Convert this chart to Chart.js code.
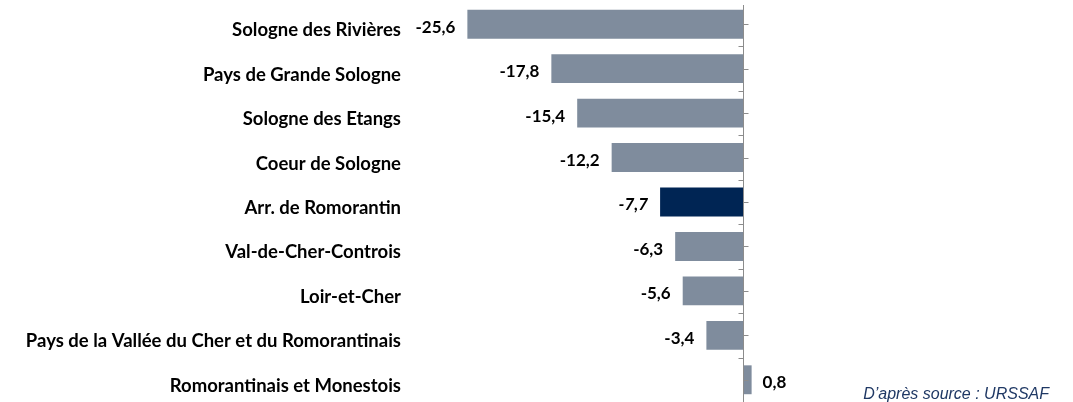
<!DOCTYPE html>
<html>
<head>
<meta charset="utf-8">
<script src="https://cdn.jsdelivr.net/npm/chart.js@4"></script>
<style>
  html, body { margin: 0; padding: 0; background: #fff; }
  #wrap { position: relative; width: 1073px; height: 402px; }
</style>
</head>
<body>
<div id="wrap"><canvas id="bars"></canvas></div>
<script>
const territories = [
    'Sologne des Rivières',
    'Pays de Grande Sologne',
    'Sologne des Etangs',
    'Coeur de Sologne',
    'Arr. de Romorantin',
    'Val-de-Cher-Controis',
    'Loir-et-Cher',
    'Pays de la Vallée du Cher et du Romorantinais',
    'Romorantinais et Monestois'
];
const evolution = [-25.6, -17.8, -15.4, -12.2, -7.7, -6.3, -5.6, -3.4, 0.8];
const highlighted = 'Arr. de Romorantin';
const sourceNote = 'D\u2019après source : URSSAF';

const greyBar = '#7f8c9d';
const navyBar = '#002554';

// axis line at zero with small ticks (centre ticks right, boundary ticks left)
const zeroAxis = {
    id: 'zeroAxis',
    afterDatasetsDraw(chart) {
        const ctx = chart.ctx;
        const xs = chart.scales.x, ys = chart.scales.y;
        const x0 = Math.round(xs.getPixelForValue(0)) + 0.5;
        ctx.save();
        ctx.strokeStyle = '#8c8c8c';
        ctx.lineWidth = 1;
        ctx.beginPath();
        ctx.moveTo(x0, chart.chartArea.top + 3);
        ctx.lineTo(x0, chart.chartArea.bottom);
        for (let i = 0; i < territories.length; i++) {
            const yc = Math.round(ys.getPixelForValue(i)) + 0.5;
            ctx.moveTo(x0, yc);
            ctx.lineTo(x0 + 5, yc);
            if (i > 0) {
                const yb = Math.round((ys.getPixelForValue(i) + ys.getPixelForValue(i - 1)) / 2) + 0.5;
                ctx.moveTo(x0 - 5, yb);
                ctx.lineTo(x0, yb);
            }
        }
        ctx.stroke();
        ctx.restore();
    }
};

// value labels next to the bars
const valueLabels = {
    id: 'valueLabels',
    afterDatasetsDraw(chart) {
        const ctx = chart.ctx;
        const meta = chart.getDatasetMeta(0);
        ctx.save();
        ctx.fillStyle = '#000';
        ctx.textBaseline = 'middle';
        meta.data.forEach((bar, i) => {
            const v = evolution[i];
            const txt = v.toFixed(1).replace('.', ',');
            const italic = territories[i] === highlighted ? 'italic ' : '';
            ctx.font = italic + 'bold 17px Lato';
            if (v < 0) {
                ctx.textAlign = 'right';
                ctx.fillText(txt, bar.x - 12, bar.y + 3);
            } else {
                ctx.textAlign = 'left';
                ctx.fillText(txt, bar.x + 11, bar.y + 3);
            }
        });
        ctx.restore();
    }
};

const sourceText = {
    id: 'sourceText',
    afterDraw(chart) {
        const ctx = chart.ctx;
        ctx.save();
        ctx.font = 'italic 16px "Liberation Sans"';
        ctx.fillStyle = '#1f3864';
        ctx.textAlign = 'right';
        ctx.textBaseline = 'alphabetic';
        ctx.fillText(sourceNote, 1049, 399);
        ctx.restore();
    }
};

new Chart(document.getElementById('bars'), {
    type: 'bar',
    data: {
        labels: territories,
        datasets: [{
            data: evolution,
            backgroundColor: territories.map(t => t === highlighted ? navyBar : greyBar),
            borderWidth: 0,
            barPercentage: 0.65,
            categoryPercentage: 1
        }]
    },
    options: {
        indexAxis: 'y',
        responsive: true,
        maintainAspectRatio: false,
        animation: false,
        layout: { padding: { top: 2, bottom: 0, left: 0, right: 7 } },
        plugins: {
            legend: { display: false },
            tooltip: { enabled: false }
        },
        scales: {
            x: {
                min: -30,
                max: 30,
                display: false
            },
            y: {
                grid: { display: false, drawTicks: false },
                border: { display: false },
                ticks: {
                    color: '#000',
                    padding: 19,
                    labelOffset: 6,
                    font: { family: 'Lato', weight: 'bold', size: 18.5 }
                },
                afterFit(scale) {
                    scale.width = 420;
                    scale.paddingTop = 0;
                    scale.paddingBottom = 0;
                }
            }
        }
    },
    plugins: [zeroAxis, valueLabels, sourceText]
});
</script>
</body>
</html>
